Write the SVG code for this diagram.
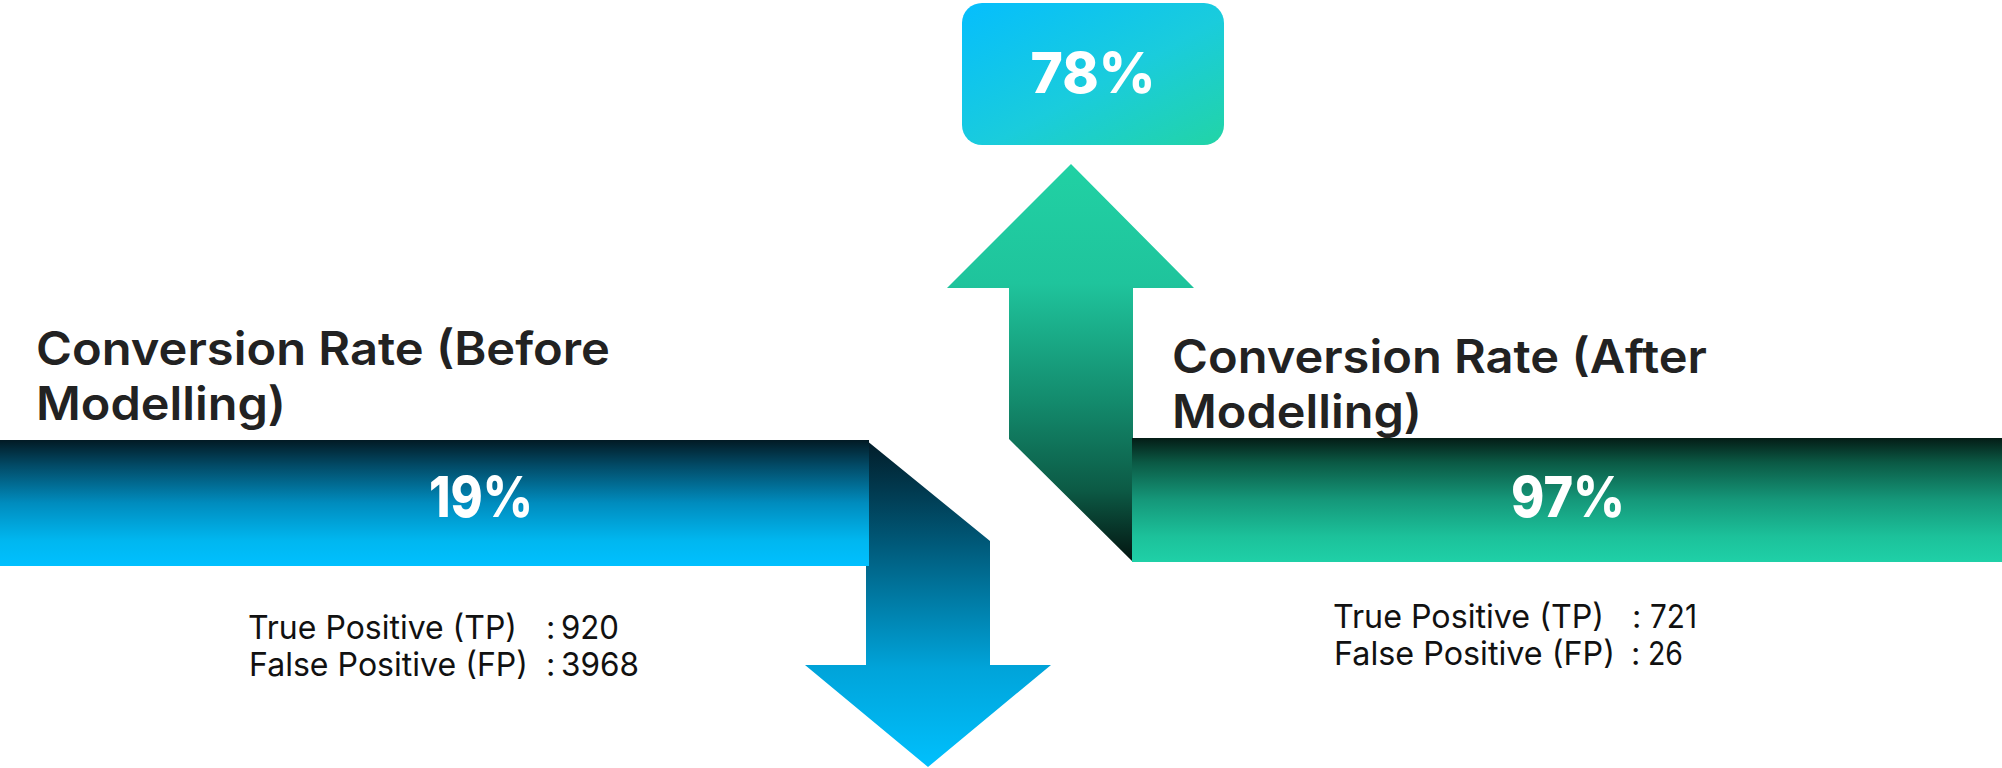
<svg xmlns="http://www.w3.org/2000/svg" width="2002" height="768" viewBox="0 0 2002 768">
  <style>
    .title { font-family: Inter, "Open Sans", "Liberation Sans", sans-serif; font-weight: 600; font-size: 46px; fill: #222222; }
    .pct { font-family: Inter, "Open Sans", "Liberation Sans", sans-serif; font-weight: 800; font-size: 57px; fill: #ffffff; text-anchor: middle; }
    .stat { font-family: Inter, "Open Sans", "Liberation Sans", sans-serif; font-weight: 400; font-size: 32.5px; fill: #111111; }
  </style>
  <defs>
    <linearGradient id="gLeftBar" x1="0" y1="0" x2="0" y2="1">
      <stop offset="0" stop-color="#021a24"/>
      <stop offset="0.2" stop-color="#024a66"/>
      <stop offset="0.5" stop-color="#008cbe"/>
      <stop offset="0.8" stop-color="#00b7f0"/>
      <stop offset="1" stop-color="#00c0ff"/>
    </linearGradient>
    <linearGradient id="gDown" gradientUnits="userSpaceOnUse" x1="0" y1="440" x2="0" y2="767">
      <stop offset="0" stop-color="#021c28"/>
      <stop offset="0.32" stop-color="#005a7a"/>
      <stop offset="0.7" stop-color="#00a4da"/>
      <stop offset="1" stop-color="#00c0fd"/>
    </linearGradient>
    <linearGradient id="gUp" gradientUnits="userSpaceOnUse" x1="0" y1="164" x2="0" y2="562">
      <stop offset="0" stop-color="#21d1a4"/>
      <stop offset="0.3" stop-color="#1fc49c"/>
      <stop offset="0.6" stop-color="#138a6c"/>
      <stop offset="0.82" stop-color="#0c5a45"/>
      <stop offset="1" stop-color="#031410"/>
    </linearGradient>
    <linearGradient id="gRightBar" x1="0" y1="0" x2="0" y2="1">
      <stop offset="0" stop-color="#041c16"/>
      <stop offset="0.2" stop-color="#0b5a45"/>
      <stop offset="0.5" stop-color="#15987a"/>
      <stop offset="0.8" stop-color="#1cc29b"/>
      <stop offset="1" stop-color="#1fd0a7"/>
    </linearGradient>
    <linearGradient id="gBox" x1="0" y1="0" x2="1" y2="1">
      <stop offset="0" stop-color="#05befd"/>
      <stop offset="0.55" stop-color="#1accdc"/>
      <stop offset="1" stop-color="#22d4a6"/>
    </linearGradient>
  </defs>

  <g id="connectors">
    <polygon id="down-arrow" fill="url(#gDown)" points="866,440 990,541 990,665 1051,665 928,767 805,665 866,665"/>
    <polygon id="up-arrow" fill="url(#gUp)" points="1071,164 1194,288 1133,288 1133,562 1009,439 1009,288 947,288"/>
  </g>

  <g id="before-bar">
    <rect x="0" y="440" width="869" height="126" fill="url(#gLeftBar)"/>
    <text class="pct" x="481" y="517" textLength="104" lengthAdjust="spacingAndGlyphs">19%</text>
  </g>

  <g id="after-bar">
    <rect x="1132" y="438" width="870" height="124" fill="url(#gRightBar)"/>
    <text class="pct" x="1568" y="517" textLength="114" lengthAdjust="spacingAndGlyphs">97%</text>
  </g>

  <g id="change-box">
    <rect x="962" y="3" width="262" height="142" rx="20" ry="20" fill="url(#gBox)"/>
    <text class="pct" x="1093" y="93" font-size="60" textLength="125" lengthAdjust="spacingAndGlyphs">78%</text>
  </g>

  <g id="title-before">
    <text class="title" x="36" y="365" textLength="574" lengthAdjust="spacingAndGlyphs">Conversion Rate (Before</text>
    <text class="title" x="36" y="420" textLength="250" lengthAdjust="spacingAndGlyphs">Modelling)</text>
  </g>

  <g id="title-after">
    <text class="title" x="1172" y="373" textLength="535" lengthAdjust="spacingAndGlyphs">Conversion Rate (After</text>
    <text class="title" x="1172" y="428" textLength="250" lengthAdjust="spacingAndGlyphs">Modelling)</text>
  </g>

  <g id="stats-before">
    <text class="stat" x="248" y="639" textLength="269" lengthAdjust="spacingAndGlyphs">True Positive (TP)</text>
    <text class="stat" x="546" y="639">:</text>
    <text class="stat" x="561" y="639" textLength="58" lengthAdjust="spacingAndGlyphs">920</text>
    <text class="stat" x="249" y="676" textLength="279" lengthAdjust="spacingAndGlyphs">False Positive (FP)</text>
    <text class="stat" x="546" y="676">:</text>
    <text class="stat" x="561" y="676" textLength="78" lengthAdjust="spacingAndGlyphs">3968</text>
  </g>

  <g id="stats-after">
    <text class="stat" x="1333" y="628" textLength="271" lengthAdjust="spacingAndGlyphs">True Positive (TP)</text>
    <text class="stat" x="1632" y="628">:</text>
    <text class="stat" x="1650" y="628" textLength="47" lengthAdjust="spacingAndGlyphs">721</text>
    <text class="stat" x="1334" y="665" textLength="281" lengthAdjust="spacingAndGlyphs">False Positive (FP)</text>
    <text class="stat" x="1631" y="665">:</text>
    <text class="stat" x="1648" y="665" textLength="35" lengthAdjust="spacingAndGlyphs">26</text>
  </g>
</svg>
